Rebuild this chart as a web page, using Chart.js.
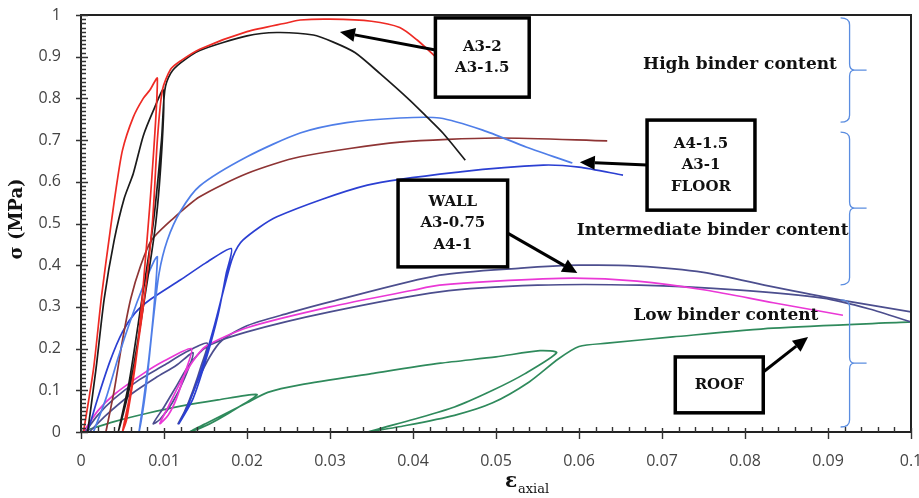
<!DOCTYPE html>
<html>
<head>
<meta charset="utf-8">
<script src="https://cdn.jsdelivr.net/npm/chart.js@4.4.1/dist/chart.umd.min.js"></script>
<style>
  html, body { margin: 0; padding: 0; background: #fff; }
  #wrap { width: 919px; height: 498px; }
</style>
</head>
<body>
<div id="wrap"><canvas id="chart" width="919" height="498"></canvas></div>
<script>
// tick labels
const xTicks = [0, 0.01, 0.02, 0.03, 0.04, 0.05, 0.06, 0.07, 0.08, 0.09, 0.1];
const yTicks = [0, 0.1, 0.2, 0.3, 0.4, 0.5, 0.6, 0.7, 0.8, 0.9, 1];

// A3-2 (red)
const a32Strain = [0.0003, 0.0015, 0.0025, 0.0035, 0.0042, 0.005, 0.0063, 0.0075, 0.0083, 0.0092,
  0.0085, 0.0077, 0.0068, 0.0055, 0.005,
  0.006, 0.0075, 0.0086, 0.0092, 0.0098, 0.0108, 0.012, 0.0143, 0.02, 0.025, 0.0264, 0.03, 0.035, 0.0384, 0.0405, 0.0427];
const a32Stress = [0, 0.15, 0.33, 0.48, 0.58, 0.676, 0.755, 0.8, 0.82, 0.848,
  0.6, 0.4, 0.2, 0.03, 0,
  0.1, 0.3, 0.5, 0.7, 0.82, 0.87, 0.89, 0.918, 0.96, 0.982, 0.988, 0.99, 0.985, 0.97, 0.94, 0.9];

// A3-1.5 (black)
const a315Strain = [0.0008, 0.0018, 0.0028, 0.004, 0.0052, 0.0063, 0.0075, 0.0087, 0.0099,
  0.0098, 0.009, 0.0075, 0.006, 0.0045,
  0.0058, 0.0072, 0.0087, 0.0097, 0.0101, 0.0108, 0.012, 0.0143, 0.02, 0.0236, 0.028, 0.0304, 0.033, 0.036, 0.0396, 0.0417, 0.0436, 0.0463];
const a315Stress = [0, 0.15, 0.32, 0.46, 0.56, 0.62, 0.71, 0.77, 0.82,
  0.7, 0.5, 0.3, 0.12, 0,
  0.12, 0.3, 0.5, 0.7, 0.82, 0.86, 0.885, 0.915, 0.95, 0.958, 0.952, 0.935, 0.91, 0.86, 0.796, 0.755, 0.717, 0.652];

// A4-1.5 (light blue)
const a415Strain = [0.0015, 0.003, 0.0045, 0.006, 0.0075, 0.0088, 0.0092,
  0.0088, 0.0082, 0.0075, 0.007,
  0.0078, 0.0086, 0.0094, 0.0104, 0.012, 0.0143, 0.02, 0.0264, 0.032, 0.0384, 0.0432, 0.0484, 0.0537, 0.0592];
const a415Stress = [0, 0.08, 0.18, 0.27, 0.35, 0.41, 0.42,
  0.3, 0.18, 0.07, 0,
  0.1, 0.25, 0.38, 0.46, 0.53, 0.59, 0.66, 0.717, 0.742, 0.753, 0.753, 0.724, 0.683, 0.645];

// A3-1 (brown)
const a31Strain = [0.003, 0.004, 0.005, 0.006, 0.0072, 0.0085, 0.011, 0.0143, 0.02, 0.0264, 0.0384, 0.05, 0.0634];
const a31Stress = [0, 0.1, 0.22, 0.32, 0.4, 0.46, 0.51, 0.564, 0.62, 0.66, 0.695, 0.705, 0.698];

// FLOOR (dark blue)
const floorStrain = [0.0008, 0.002, 0.0035, 0.005, 0.0065, 0.0083, 0.012, 0.015, 0.0181,
  0.0175, 0.0165, 0.015, 0.0135, 0.0118,
  0.0128, 0.0145, 0.016, 0.0173, 0.0183, 0.0195, 0.0236, 0.0345, 0.0457, 0.0557, 0.06, 0.0653];
const floorStress = [0, 0.08, 0.17, 0.24, 0.285, 0.317, 0.365, 0.405, 0.44,
  0.38, 0.28, 0.17, 0.08, 0.02,
  0.06, 0.15, 0.25, 0.35, 0.42, 0.46, 0.516, 0.592, 0.624, 0.64, 0.635, 0.616];

// WALL (navy, upper)
const wallStrain = [0.0005, 0.002, 0.004, 0.007, 0.01, 0.0125, 0.0152,
  0.0145, 0.0135, 0.0125, 0.0117,
  0.0128, 0.014, 0.0155, 0.017, 0.02, 0.025, 0.03, 0.0432, 0.053, 0.06, 0.067, 0.075, 0.0834, 0.0914, 0.1];
const wallStress = [0, 0.04, 0.08, 0.125, 0.16, 0.19, 0.213,
  0.16, 0.1, 0.05, 0.02,
  0.06, 0.12, 0.18, 0.22, 0.255, 0.285, 0.312, 0.376, 0.393, 0.4, 0.398, 0.383, 0.348, 0.317, 0.288];

// A3-0.75 (magenta)
const a3075Strain = [0.0003, 0.002, 0.004, 0.0075, 0.01, 0.0133,
  0.0125, 0.0115, 0.0105, 0.0095,
  0.0105, 0.012, 0.0135, 0.015, 0.02, 0.03, 0.04, 0.0432, 0.05, 0.0593, 0.067, 0.0754, 0.0834, 0.0918];
const a3075Stress = [0, 0.05, 0.09, 0.14, 0.17, 0.2,
  0.14, 0.08, 0.04, 0.02,
  0.06, 0.12, 0.17, 0.205, 0.25, 0.3, 0.34, 0.352, 0.362, 0.369, 0.362, 0.34, 0.31, 0.28];

// A4-1 (navy, lower)
const a41Strain = [0.001, 0.003, 0.006, 0.009, 0.0115, 0.0135,
  0.0125, 0.011, 0.0095, 0.0087,
  0.01, 0.0115, 0.013, 0.0152, 0.02, 0.03, 0.0432, 0.055, 0.0673, 0.0794, 0.0894, 0.095, 0.1];
const a41Stress = [0, 0.04, 0.09, 0.13, 0.16, 0.19,
  0.13, 0.07, 0.03, 0.02,
  0.06, 0.11, 0.16, 0.205, 0.24, 0.288, 0.336, 0.352, 0.352, 0.34, 0.321, 0.295, 0.264];

// ROOF (green)
const roofStrain = [0, 0.004, 0.008, 0.012, 0.0165, 0.0212,
  0.019, 0.0165, 0.0145, 0.0131,
  0.015, 0.0175, 0.02, 0.0225, 0.0264, 0.035, 0.0433, 0.05, 0.0553, 0.0573,
  0.0535, 0.0496, 0.045, 0.04, 0.0346,
  0.039, 0.045, 0.0496, 0.054, 0.0575, 0.06, 0.0634, 0.0713, 0.0834, 0.1];
const roofStress = [0, 0.025, 0.045, 0.062, 0.077, 0.09,
  0.06, 0.03, 0.01, 0,
  0.02, 0.045, 0.07, 0.095, 0.113, 0.14, 0.165, 0.18, 0.195, 0.19,
  0.14, 0.1, 0.06, 0.03, 0,
  0.015, 0.04, 0.07, 0.12, 0.175, 0.205, 0.213, 0.228, 0.249, 0.264];

function pts(xs, ys) {
  return xs.map((x, i) => ({x: x, y: ys[i]}));
}

function curve(label, xs, ys, color) {
  return {
    label: label,
    data: pts(xs, ys),
    showLine: true,
    borderColor: color,
    borderWidth: 1.7,
    pointRadius: 0,
    tension: 0.25,
    fill: false
  };
}

const datasets = [
  curve('A3-2', a32Strain, a32Stress, '#ee2a24'),
  curve('A3-1.5', a315Strain, a315Stress, '#1b1b1b'),
  curve('A4-1.5', a415Strain, a415Stress, '#4f7ee8'),
  curve('A3-1', a31Strain, a31Stress, '#8e3434'),
  curve('FLOOR', floorStrain, floorStress, '#2b3fd2'),
  curve('A3-0.75', a3075Strain, a3075Stress, '#ea38d6'),
  curve('WALL', wallStrain, wallStress, '#4c4e8e'),
  curve('A4-1', a41Strain, a41Stress, '#4c4e8e'),
  curve('ROOF', roofStrain, roofStress, '#2f8a5c')
];

// callouts (data coordinates)
const serif = '"DejaVu Serif", "Liberation Serif", serif';
const boxes = [
  {x0: 0.0427, x1: 0.054, y0: 0.993, y1: 0.803, lines: ['A3-2', 'A3-1.5'],
   from: [0.0427, 0.916], to: [0.0312, 0.959]},
  {x0: 0.0682, x1: 0.0812, y0: 0.748, y1: 0.532, lines: ['A4-1.5', 'A3-1', 'FLOOR'],
   from: [0.0682, 0.64], to: [0.0601, 0.647]},
  {x0: 0.0382, x1: 0.0514, y0: 0.604, y1: 0.396, lines: ['WALL', 'A3-0.75', 'A4-1'],
   from: [0.0514, 0.477], to: [0.0598, 0.381]},
  {x0: 0.0716, x1: 0.0822, y0: 0.18, y1: 0.046, lines: ['ROOF'],
   from: [0.0822, 0.144], to: [0.0876, 0.228]}
];
const groupLabels = [
  {text: 'High binder content', x: 0.0794, y: 0.88},
  {text: 'Intermediate binder content', x: 0.0761, y: 0.484},
  {text: 'Low binder content', x: 0.0777, y: 0.278}
];
const braces = [
  {top: 0.993, mid: 0.868, bottom: 0.743},
  {top: 0.719, mid: 0.537, bottom: 0.353},
  {top: 0.317, mid: 0.165, bottom: 0.012}
];

function arrow(ctx, x1, y1, x2, y2) {
  const a = Math.atan2(y2 - y1, x2 - x1);
  const hl = 15, hw = 7;
  const bx = x2 - hl * Math.cos(a), by = y2 - hl * Math.sin(a);
  ctx.beginPath();
  ctx.moveTo(x1, y1);
  ctx.lineTo(bx, by);
  ctx.stroke();
  ctx.beginPath();
  ctx.moveTo(x2, y2);
  ctx.lineTo(bx + hw * Math.sin(a), by - hw * Math.cos(a));
  ctx.lineTo(bx - hw * Math.sin(a), by + hw * Math.cos(a));
  ctx.closePath();
  ctx.fill();
}

function brace(ctx, xV, top, mid, bottom) {
  const xl = xV - 9, xr = xV + 17;
  ctx.beginPath();
  ctx.moveTo(xl, top);
  ctx.quadraticCurveTo(xV, top, xV, top + 7);
  ctx.lineTo(xV, mid - 6);
  ctx.quadraticCurveTo(xV, mid, xV + 5, mid);
  ctx.lineTo(xr, mid);
  ctx.moveTo(xV + 5, mid);
  ctx.quadraticCurveTo(xV, mid, xV, mid + 6);
  ctx.lineTo(xV, bottom - 7);
  ctx.quadraticCurveTo(xV, bottom, xl, bottom);
  ctx.stroke();
}

const decor = {
  id: 'decor',
  afterDraw(chart) {
    const ctx = chart.ctx;
    const xs = chart.scales.x, ys = chart.scales.y;
    const a = chart.chartArea;
    ctx.save();

    // frame
    ctx.strokeStyle = '#222';
    ctx.lineWidth = 2;
    ctx.strokeRect(a.left, a.top, a.right - a.left, a.bottom - a.top);

    // ticks
    ctx.lineWidth = 1.4;
    ctx.strokeStyle = '#333';
    ctx.beginPath();
    for (let i = 0; i <= 50; i++) {
      const px = Math.round(xs.getPixelForValue(i * 0.002)) + 0.5;
      if (i % 5 === 0) {
        ctx.moveTo(px, a.bottom - 4); ctx.lineTo(px, a.bottom + 7);
      } else {
        ctx.moveTo(px, a.bottom - 5); ctx.lineTo(px, a.bottom);
      }
    }
    for (let i = 0; i <= 100; i++) {
      const py = Math.round(ys.getPixelForValue(i * 0.01)) + 0.5;
      if (i % 10 === 0) {
        ctx.moveTo(a.left - 5, py); ctx.lineTo(a.left + 7, py);
      } else {
        ctx.moveTo(a.left, py); ctx.lineTo(a.left + 5, py);
      }
    }
    ctx.stroke();

    // braces
    ctx.strokeStyle = '#5b8de0';
    ctx.lineWidth = 1.3;
    const xV = xs.getPixelForValue(0.0926);
    braces.forEach(b => brace(ctx, xV, ys.getPixelForValue(b.top), ys.getPixelForValue(b.mid), ys.getPixelForValue(b.bottom)));

    // group labels
    ctx.fillStyle = '#111';
    ctx.font = 'bold 17px ' + serif;
    ctx.textAlign = 'center';
    ctx.textBaseline = 'middle';
    groupLabels.forEach(g => ctx.fillText(g.text, xs.getPixelForValue(g.x), ys.getPixelForValue(g.y)));

    // callout boxes and arrows
    boxes.forEach(b => {
      const l = xs.getPixelForValue(b.x0), r = xs.getPixelForValue(b.x1);
      const t = ys.getPixelForValue(b.y0), btm = ys.getPixelForValue(b.y1);
      ctx.fillStyle = '#fff';
      ctx.fillRect(l, t, r - l, btm - t);
      ctx.strokeStyle = '#000';
      ctx.lineWidth = 3.5;
      ctx.strokeRect(l, t, r - l, btm - t);
      ctx.fillStyle = '#111';
      ctx.font = 'bold 15px ' + serif;
      const lh = 21.5;
      const cy = (t + btm) / 2 - (b.lines.length - 1) * lh / 2;
      b.lines.forEach((s, i) => ctx.fillText(s, (l + r) / 2, cy + i * lh));
      ctx.fillStyle = '#000';
      ctx.lineWidth = 3;
      arrow(ctx, xs.getPixelForValue(b.from[0]), ys.getPixelForValue(b.from[1]),
        xs.getPixelForValue(b.to[0]), ys.getPixelForValue(b.to[1]));
    });

    // axis titles
    ctx.fillStyle = '#111';
    ctx.save();
    ctx.translate(17, 219);
    ctx.rotate(-Math.PI / 2);
    ctx.font = 'bold 18px ' + serif;
    ctx.fillText('σ (MPa)', 0, 0);
    ctx.restore();

    ctx.textAlign = 'left';
    ctx.textBaseline = 'alphabetic';
    ctx.font = 'bold 20px ' + serif;
    ctx.fillText('ε', 505, 487);
    ctx.font = '13px ' + serif;
    ctx.fillText('axial', 518, 493);

    ctx.restore();
  }
};

const ctx = document.getElementById('chart').getContext('2d');
new Chart(ctx, {
  type: 'scatter',
  data: { datasets: datasets },
  options: {
    responsive: false,
    animation: false,
    layout: { padding: { left: 0, right: 8, top: 15, bottom: 0 } },
    plugins: {
      legend: { display: false },
      tooltip: { enabled: false }
    },
    scales: {
      x: {
        type: 'linear',
        min: 0,
        max: 0.1,
        afterFit: s => { s.height = 66; s.paddingLeft = 0; s.paddingRight = 0; },
        afterBuildTicks: s => { s.ticks = xTicks.map(v => ({value: v})); },
        grid: { display: false },
        border: { display: false },
        ticks: {
          padding: 12,
          color: '#444',
          font: { family: '"Open Sans", sans-serif', size: 16 },
          callback: v => String(Number(v.toFixed(3)))
        }
      },
      y: {
        type: 'linear',
        min: 0,
        max: 1,
        afterFit: s => { s.width = 81; s.paddingTop = 0; s.paddingBottom = 0; },
        afterBuildTicks: s => { s.ticks = yTicks.map(v => ({value: v})); },
        grid: { display: false },
        border: { display: false },
        ticks: {
          padding: 12,
          color: '#444',
          font: { family: '"Open Sans", sans-serif', size: 16 },
          callback: v => String(Number(v.toFixed(2)))
        }
      }
    }
  },
  plugins: [decor]
});
</script>
</body>
</html>
